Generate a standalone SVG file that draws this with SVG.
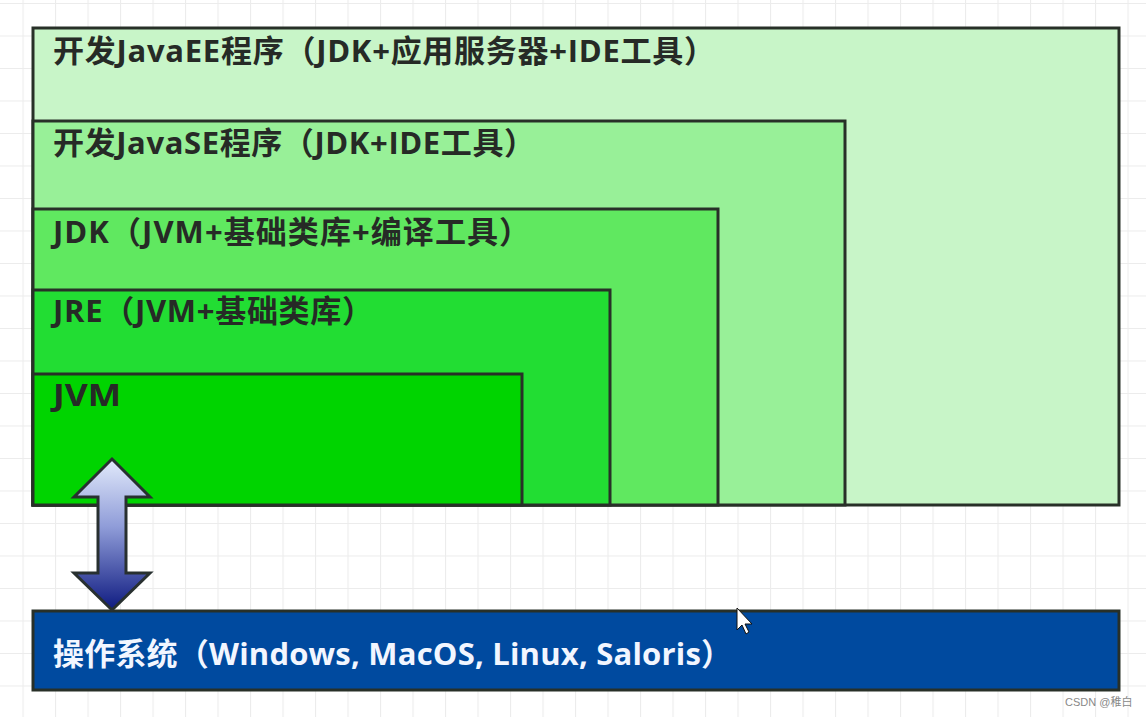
<svg xmlns="http://www.w3.org/2000/svg" width="1146" height="717" viewBox="0 0 1146 717">
<style>
.box{stroke:#283028;stroke-width:3}
.lbl{font-family:"Open Sans","Noto Sans CJK SC",sans-serif;font-weight:bold;font-size:31px;fill:#262a26}
.os{fill:#f2f6ff}
</style>
<defs>
<pattern id="grid" width="32.5" height="32.5" patternUnits="userSpaceOnUse" x="22.5" y="3">
<path d="M0 0.5H32.5M0.5 0V32.5" fill="none" stroke="#ececec" stroke-width="1.2"/>
</pattern>
<linearGradient id="arr" x1="0" y1="0" x2="0" y2="1">
<stop offset="0" stop-color="#e2eafb"/>
<stop offset="0.45" stop-color="#8f9cd8"/>
<stop offset="1" stop-color="#0e1a80"/>
</linearGradient>
</defs>
<rect width="1146" height="717" fill="#fff"/>
<rect width="1146" height="717" fill="url(#grid)"/>
<g id="javaee"><rect class="box" x="33" y="28" width="1086" height="477" fill="#c8f5c8"/>
<text class="lbl" x="53" y="62" textLength="662" lengthAdjust="spacing">开发JavaEE程序（JDK+应用服务器+IDE工具）</text></g>
<g id="javase"><rect class="box" x="33" y="121" width="812" height="384" fill="#98f098"/>
<text class="lbl" x="53" y="154" textLength="482" lengthAdjust="spacing">开发JavaSE程序（JDK+IDE工具）</text></g>
<g id="jdk"><rect class="box" x="33" y="209" width="685" height="296" fill="#60e860"/>
<text class="lbl" x="53" y="243" textLength="477" lengthAdjust="spacing">JDK（JVM+基础类库+编译工具）</text></g>
<g id="jre"><rect class="box" x="33" y="290" width="577" height="215" fill="#22dd33"/>
<text class="lbl" x="53" y="322" textLength="320" lengthAdjust="spacing">JRE（JVM+基础类库）</text></g>
<g id="jvm"><rect class="box" x="33" y="374" width="489" height="131" fill="#00d400"/>
<text class="lbl" x="53" y="406" textLength="68" lengthAdjust="spacingAndGlyphs">JVM</text></g>
<g id="os"><rect class="box" x="33" y="611" width="1086" height="79" fill="#004a9f"/>
<text class="lbl os" x="53" y="665" textLength="679" lengthAdjust="spacing">操作系统（Windows, MacOS, Linux, Saloris）</text></g>
<g id="connectors">
<path d="M112 459 L150 497 L126 497 L126 573 L150 573 L112 610 L74 573 L98 573 L98 497 L74 497 Z" fill="url(#arr)" stroke="#283030" stroke-width="3" stroke-linejoin="miter"/>
</g>
<path d="M737 608 L737 630 L742 625 L746 634 L749 632 L745 624 L752 624 Z" fill="#fff" stroke="#111" stroke-width="1"/>
<text x="1065" y="706" font-family="Liberation Sans, Noto Sans CJK SC, sans-serif" font-size="11" fill="#888">CSDN @稚白</text>
</svg>
